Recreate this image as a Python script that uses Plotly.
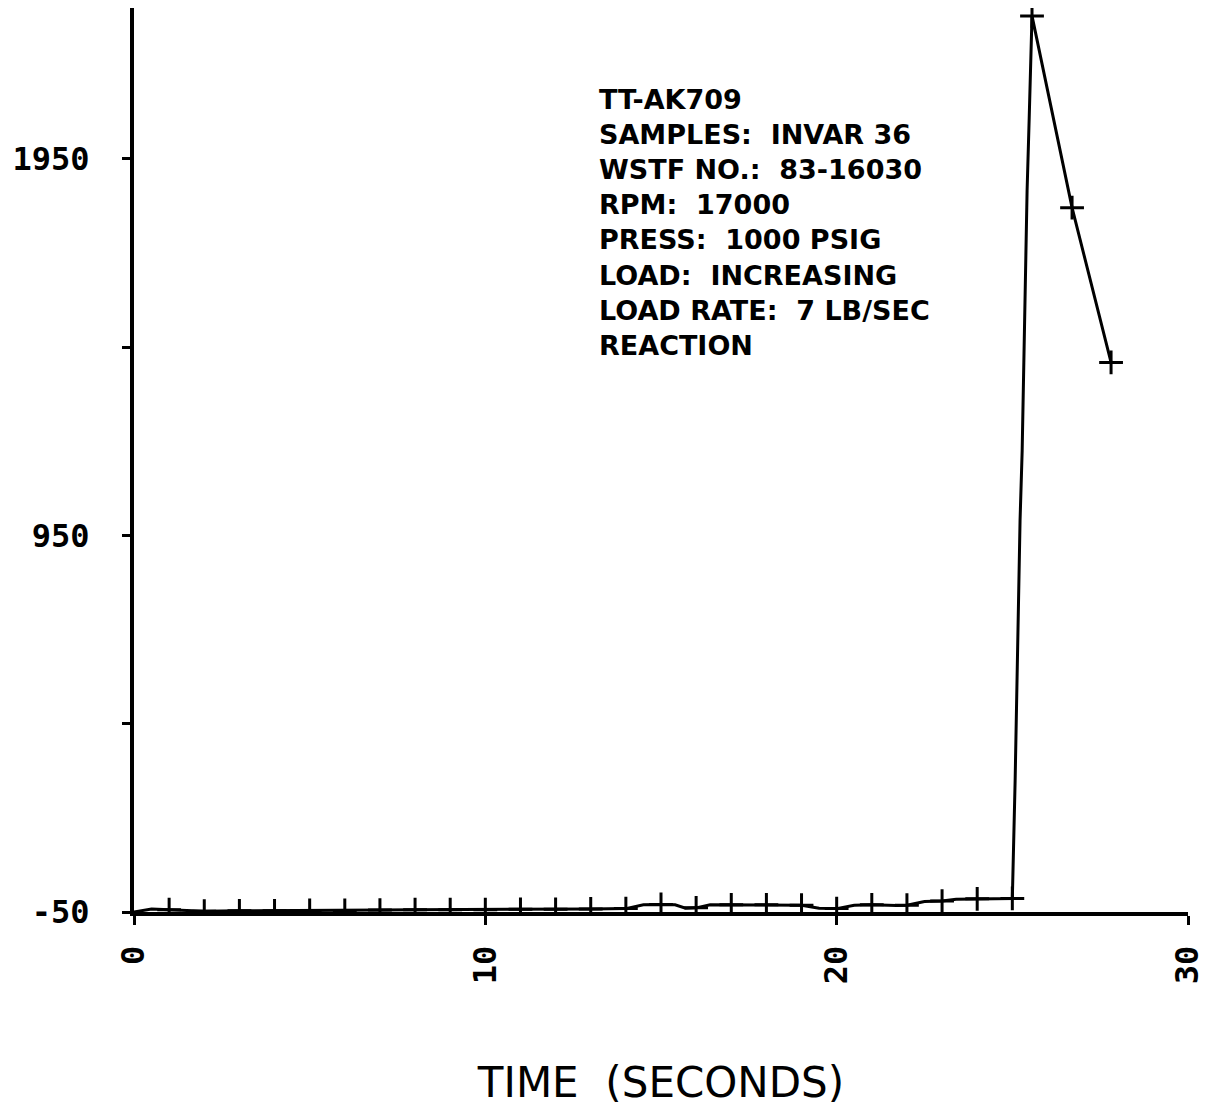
import plotly.graph_objects as go

# ---- data ----
time_s = [0, 0.5, 1, 1.5, 2, 3, 4, 5, 6, 7, 8, 9, 10, 11, 12, 13, 14, 14.5, 15, 15.4,
          15.7, 16, 16.4, 17, 18, 19, 19.5, 20, 20.5, 21, 21.7, 22, 22.5, 23, 23.4, 24, 25,
          25.08, 25.14, 25.22, 25.28, 25.31, 25.42, 25.48, 25.53, 25.56, 26.7, 27.81]
load = [-50, -42, -44, -45, -48, -47, -47, -46, -46, -45, -44, -44, -44, -43, -43, -42, -41, -31, -30, -31,
        -40, -39, -31, -31, -31, -32, -40, -41, -32, -31, -33, -32, -22, -21, -16, -15, -14,
        300, 645, 990, 1175, 1335, 1865, 2058, 2236, 2329, 1820, 1409]

# plotted "+" symbols: every whole second plus the last three samples
marker_time = [1, 2, 3, 4, 5, 6, 7, 8, 9, 10, 11, 12, 13, 14, 15, 16, 17, 18, 19, 20,
               21, 22, 23, 24, 25, 25.56, 26.7, 27.81]
marker_load = [load[time_s.index(t)] for t in marker_time]

y_tickvals = [-50, 450, 950, 1450, 1950]
y_ticktext = ["-50", "", "950", "", "1950"]
x_tickvals = [0, 10, 20, 30]
x_ticktext = ["0", "10", "20", "30"]

info_lines = [
    "TT-AK709",
    "SAMPLES:  INVAR 36",
    "WSTF NO.:  83-16030",
    "RPM:  17000",
    "PRESS:  1000 PSIG",
    "LOAD:  INCREASING",
    "LOAD RATE:  7 LB/SEC",
    "REACTION",
]

# ---- figure ----
fig = go.Figure()
fig.add_trace(go.Scatter(
    x=time_s, y=load, mode="lines",
    line=dict(color="black", width=3),
    showlegend=False, hoverinfo="skip",
))
fig.add_trace(go.Scatter(
    x=marker_time, y=marker_load, mode="markers",
    marker=dict(symbol="cross-thin", size=17, line=dict(color="black", width=3)),
    showlegend=False, hoverinfo="skip",
))

tick_font = dict(family="DejaVu Sans Mono", size=32, color="black", weight="bold")

fig.add_annotation(
    xref="paper", yref="paper",
    x=0.4393, y=0.9176,
    xanchor="left", yanchor="top", align="left",
    text="<br>".join(info_lines), showarrow=False,
    font=dict(family="DejaVu Sans", size=27, color="black", weight="bold"),
)

fig.update_layout(
    width=1215, height=1105,
    margin=dict(l=126, r=35, t=0, b=201),
    paper_bgcolor="white", plot_bgcolor="white",
    xaxis=dict(
        range=[0, 30], tickvals=x_tickvals, ticktext=x_ticktext,
        tickangle=-90, tickfont=tick_font,
        showline=True, linecolor="black", linewidth=4,
        ticks="outside", ticklen=9, tickwidth=3, tickcolor="black",
        ticklabelstandoff=8,
        showgrid=False, zeroline=False,
        title=dict(text="TIME  (SECONDS)", font=dict(family="DejaVu Sans", size=42, color="black"),
                   standoff=85),
    ),
    yaxis=dict(
        range=[-50, 2350], tickvals=y_tickvals, ticktext=y_ticktext,
        tickfont=tick_font,
        showline=True, linecolor="black", linewidth=4,
        ticks="outside", ticklen=8, tickwidth=3, tickcolor="black",
        ticklabelstandoff=26,
        showgrid=False, zeroline=False,
    ),
    yaxis2=dict(
        range=[-50, 2350], tickvals=y_tickvals, overlaying="y", side="left",
        showticklabels=False, ticks="inside", ticklen=8, tickwidth=3, tickcolor="black",
        showline=False, showgrid=False, zeroline=False,
    ),
)

fig.write_html("out.html")
